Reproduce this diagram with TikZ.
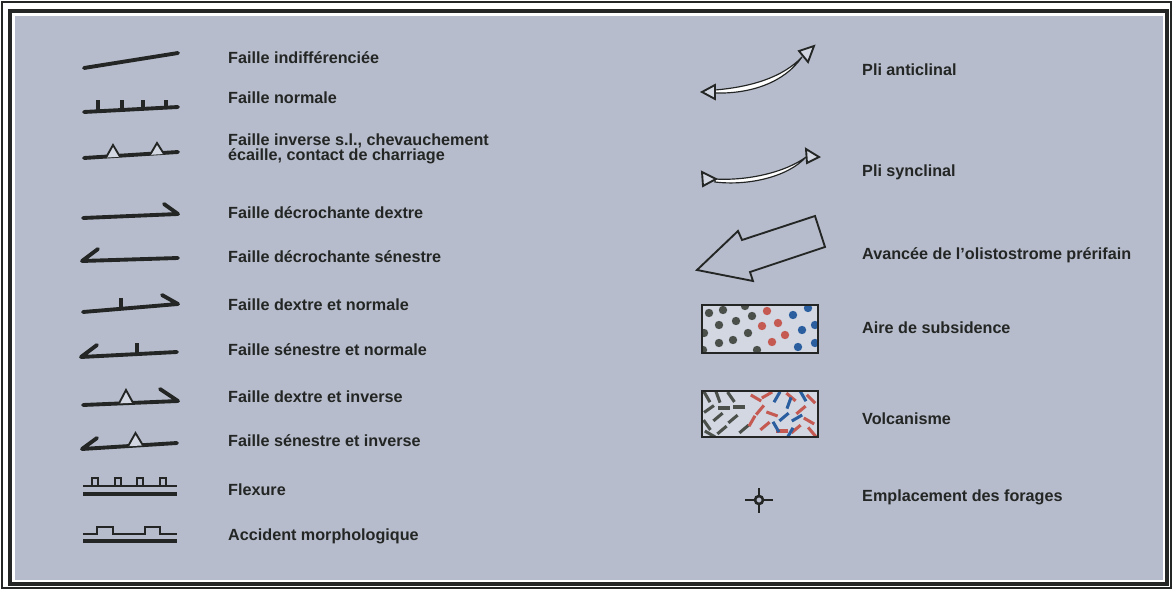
\documentclass[tikz,border=0pt]{standalone}
\usepackage{fontspec}
\setmainfont{Liberation Sans}
\usetikzlibrary{positioning}
\definecolor{legFond}{HTML}{B6BCCB}
\definecolor{legTrait}{HTML}{232624}
\definecolor{legClair}{HTML}{D2D7E2}
\definecolor{legGris}{HTML}{4B504B}
\definecolor{legRouge}{HTML}{C45A52}
\definecolor{legBleu}{HTML}{2B5E9E}

\begin{document}
\begin{tikzpicture}[x=0.03cm,y=-0.03cm,
      lbl/.style={anchor=west, inner sep=0pt, align=left, text=legTrait,
                  font=\fontsize{13.8}{12.8}\selectfont\bfseries},
      faille/.style={draw=legTrait, line width=3.3pt, line cap=round, line join=round},
      fin/.style={draw=legTrait, line width=1.7pt},
      tri/.style={draw=legTrait, line width=1.6pt, fill=legClair, line join=miter},
      pli/.style={draw=legTrait, line width=1pt, fill=white}]
    % cadre
    \fill[white] (0,0) rectangle (1173,590);
    \draw[legTrait, line width=1.8pt] (2,2) rectangle (1171,588);
    \fill[legFond] (15,16) rectangle (1163,580);
    \draw[legTrait, line width=3.6pt] (10,11) rectangle (1167,584);

    % textes, colonne gauche
    \node[lbl] (fInd) at (228,58)  {Faille indifférenciée};
    \node[lbl] (fNor) at (228,98)  {Faille normale};
    \node[lbl] (fInv) at (228,149) {Faille inverse s.l., chevauchement\\écaille, contact de charriage};
    \node[lbl] (fDex) at (228,213) {Faille décrochante dextre};
    \node[lbl] (fSen) at (228,257) {Faille décrochante sénestre};
    \node[lbl] (fDN)  at (228,305) {Faille dextre et normale};
    \node[lbl] (fSN)  at (228,350) {Faille sénestre et normale};
    \node[lbl] (fDI)  at (228,397) {Faille dextre et inverse};
    \node[lbl] (fSI)  at (228,441) {Faille sénestre et inverse};
    \node[lbl] (flex) at (228,490) {Flexure};
    \node[lbl] (acc)  at (228,536) {Accident morphologique};

    % textes, colonne droite
    \node[lbl] (pAnt) at (862,70)  {Pli anticlinal};
    \node[lbl] (pSyn) at (862,172) {Pli synclinal};
    \node[lbl] (oli)  at (862,255) {Avancée de l'olistostrome prérifain};
    \node[lbl] (sub)  at (862,328) {Aire de subsidence};
    \node[lbl] (volc) at (862,419) {Volcanisme};
    \node[lbl] (forg) at (862,497) {Emplacement des forages};

    % failles
    \draw[faille] (84,68) -- (178,53);
    \draw[faille] (84,112) -- (178,107);
    \foreach \x/\y in {98/111.3,122/110,143/108.9,166/107.6}
      \draw[faille, line cap=butt] (\x,\y) -- (\x,100);
    \draw[faille] (84,158) -- (178,152);
    \draw[tri] (106,157.6) -- (113,145) -- (120,156.7);
    \draw[tri] (150,154.9) -- (157,143) -- (164,154);
    \draw[faille] (83,218) -- (178,214) -- (164,204);
    \draw[faille] (178,258) -- (82,261) -- (98,249);
    \draw[faille] (83,312) -- (178,304) -- (162,295);
    \draw[faille, line cap=butt] (121,308.8) -- (121,298);
    \draw[faille] (177,352) -- (81,357) -- (97,345);
    \draw[faille, line cap=butt] (137,354.3) -- (137,343);
    \draw[faille] (83,405) -- (178,401) -- (160,389);
    \draw[tri] (119,403.4) -- (126,390) -- (133,402.8);
    \draw[faille] (177,443) -- (82,449) -- (97,438);
    \draw[tri] (128,446.3) -- (135.5,433) -- (143,445.4);

    % flexure et accident morphologique
    \draw[faille, line cap=butt] (83,494) -- (177,494);
    \draw[fin] (83,486) -- (177,486);
    \foreach \x in {92,115,137,160}
      \draw[fin] (\x,486) -- (\x,478) -- (\x+6,478) -- (\x+6,486);
    \draw[faille, line cap=butt] (83,541) -- (177,541);
    \draw[fin] (83,534) -- (97,534) -- (97,527) -- (113,527) -- (113,534)
      -- (145,534) -- (145,527) -- (160,527) -- (160,534) -- (177,534);

    % plis
    \draw[pli] (715,90) .. controls (750,87) and (782,78) .. (802,57)
      .. controls (784,83) and (750,94) .. (715,93) -- cycle;
    \draw[tri] (702,92) -- (715,85) -- (715,99) -- cycle;
    \draw[tri] (814,46) -- (799,51) -- (808,62) -- cycle;
    \draw[pli] (715,179) .. controls (748,181) and (786,172) .. (806,157)
      .. controls (788,177) and (748,186) .. (715,182) -- cycle;
    \draw[tri] (702,172) -- (716,179) -- (703,186) -- cycle;
    \draw[tri] (806,149) -- (819,157) -- (807,163) -- cycle;

    % olistostrome
    \draw[legTrait, line width=1.6pt, line join=miter]
      (697,270) -- (738,231) -- (742,240) -- (815,216) -- (825,247)
      -- (750,272) -- (753,281) -- cycle;

    % aire de subsidence
    \fill[legClair] (702,305) rectangle (818,353);
    \begin{scope}
      \clip (702,305) rectangle (818,353);
      \foreach \x/\y in {709/313,723/310,736/321,752/316,719/325,704/333,
                         719/343,733/340,748/333,757/350,703/350,745/306}
        \fill[legGris] (\x,\y) circle[radius=4.2];
      \foreach \x/\y in {767/311,778/323,762/326,772/342,785/335}
        \fill[legRouge] (\x,\y) circle[radius=4.2];
      \foreach \x/\y in {793/315,802/330,798/347,815/325,815/343,808/308}
        \fill[legBleu] (\x,\y) circle[radius=4.2];
    \end{scope}
    \draw[legTrait, line width=1.6pt] (702,305) rectangle (818,353);

    % volcanisme
    \fill[legClair] (702,391) rectangle (818,437);
    \begin{scope}
      \clip (702,391) rectangle (818,437);
      \foreach \x/\y/\a in {707/397/60,718/397/70,731/397/55,709/409/-35,
                            724/408/0,739/407/0,718/417/-40,707/425/55,
                            733/419/-40,722/430/-40,744/429/-40,710/434/30}
        \draw[legGris, line width=2.6pt] (\x,\y) ++(\a:6) -- ++(\a+180:12);
      \foreach \x/\y/\a in {756/398/30,767/395/-30,760/410/-50,752/421/-60,
                            765/426/-40,791/397/40,801/410/-40,811/399/45,
                            809/421/30,796/429/-40,812/432/50,782/431/0,772/414/20}
        \draw[legRouge, line width=2.6pt] (\x,\y) ++(\a:6) -- ++(\a+180:12);
      \foreach \x/\y/\a in {777/397/-60,789/403/-70,784/417/-40,797/418/-30,
                            776/427/60,790/433/-60,803/396/60}
        \draw[legBleu, line width=2.6pt] (\x,\y) ++(\a:6) -- ++(\a+180:12);
    \end{scope}
    \draw[legTrait, line width=1.6pt] (702,391) rectangle (818,437);

    % forage
    \draw[legTrait, line width=2.2pt] (759,500) circle[radius=4];
    \draw[legTrait, line width=2.2pt] (745,500) -- (755,500) (763,500) -- (773,500)
      (759,488) -- (759,496) (759,504) -- (759,513);
  \end{tikzpicture}
\end{document}
